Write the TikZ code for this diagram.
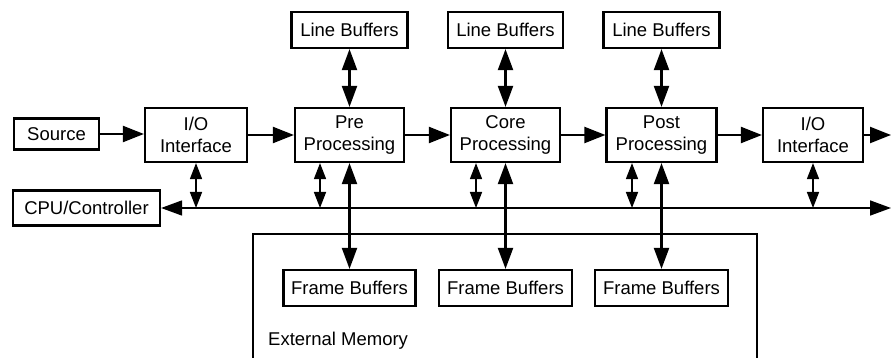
\documentclass[tikz,border=0pt]{standalone}
\usepackage{fontspec}
\setmainfont{Liberation Sans}
\usepackage{tikz}
\usetikzlibrary{arrows.meta,calc}

\begin{document}
\begin{tikzpicture}[x=1pt,y=-1pt,
  blk/.style={draw,line width=2.2pt,align=center,inner sep=0pt,
    font=\fontsize{18.5}{21.5}\selectfont},
  flow/.style={line width=2.2pt,-{Triangle[length=21pt,width=16pt]}},
  both/.style={line width=2.2pt,{Triangle[length=21pt,width=15pt]}-{Triangle[length=21pt,width=15pt]}},
  tap/.style={line width=1.6pt,{Triangle[length=16pt,width=12pt]}-{Triangle[length=16pt,width=12pt]}}]
\useasboundingbox (0,0) rectangle (892,358);

% memory
\node[draw,line width=2.2pt,minimum width=504pt,minimum height=150pt] (mem) at (505,309) {};
\node[anchor=west,inner sep=0pt,font=\fontsize{18.5}{21}\selectfont] (memlbl) at (268,341) {External Memory};

% main chain
\node[blk,minimum width=85pt,minimum height=31pt] (src) at (56.5,134) {Source};
\node[blk,minimum width=102pt,minimum height=54pt] (io1) at (196,135) {I/O\\Interface};
\node[blk,minimum width=109pt,minimum height=54pt] (pre) at (349.5,135) {Pre\\Processing};
\node[blk,minimum width=109pt,minimum height=54pt] (core) at (505.5,135) {Core\\Processing};
\node[blk,minimum width=110pt,minimum height=54pt] (post) at (661.5,135) {Post\\Processing};
\node[blk,minimum width=100pt,minimum height=54pt] (io2) at (813,135) {I/O\\Interface};
\node[blk,minimum width=147pt,minimum height=35pt] (cpu) at (86.5,208) {CPU/Controller};

% buffers
\node[blk,minimum width=116pt,minimum height=36pt] (lb1) at (349.5,30) {Line Buffers};
\node[blk,minimum width=115pt,minimum height=36pt] (lb2) at (505.5,30) {Line Buffers};
\node[blk,minimum width=116pt,minimum height=36pt] (lb3) at (661.5,30) {Line Buffers};
\node[blk,minimum width=132pt,minimum height=36pt] (fb1) at (349.5,288) {Frame Buffers};
\node[blk,minimum width=133pt,minimum height=36pt] (fb2) at (505.5,288) {Frame Buffers};
\node[blk,minimum width=133pt,minimum height=36pt] (fb3) at (661.5,288) {Frame Buffers};

% data flow
\coordinate (out) at (891,135);
\draw[flow] (src) -- (src -| io1.west);
\draw[flow] (io1) -- (pre);
\draw[flow] (pre) -- (core);
\draw[flow] (core) -- (post);
\draw[flow] (post) -- (io2);
\draw[flow] (io2) -- (out);

\draw[both] (lb1) -- (pre);
\draw[both] (lb2) -- (core);
\draw[both] (lb3) -- (post);
\draw[both] (pre) -- (fb1);
\draw[both] (core) -- (fb2);
\draw[both] (post) -- (fb3);

% control bus
\coordinate (busR) at (891,208);
\draw[both,line width=1.6pt] (cpu.east) -- (busR);
\coordinate (t1) at (196,208);
\coordinate (t2) at (320,208);
\coordinate (t3) at (476,208);
\coordinate (t4) at (632,208);
\coordinate (t5) at (813,208);
\draw[tap] (t1 |- io1.south) -- (t1);
\draw[tap] (t2 |- pre.south) -- (t2);
\draw[tap] (t3 |- core.south) -- (t3);
\draw[tap] (t4 |- post.south) -- (t4);
\draw[tap] (t5 |- io2.south) -- (t5);
\end{tikzpicture}
\end{document}
